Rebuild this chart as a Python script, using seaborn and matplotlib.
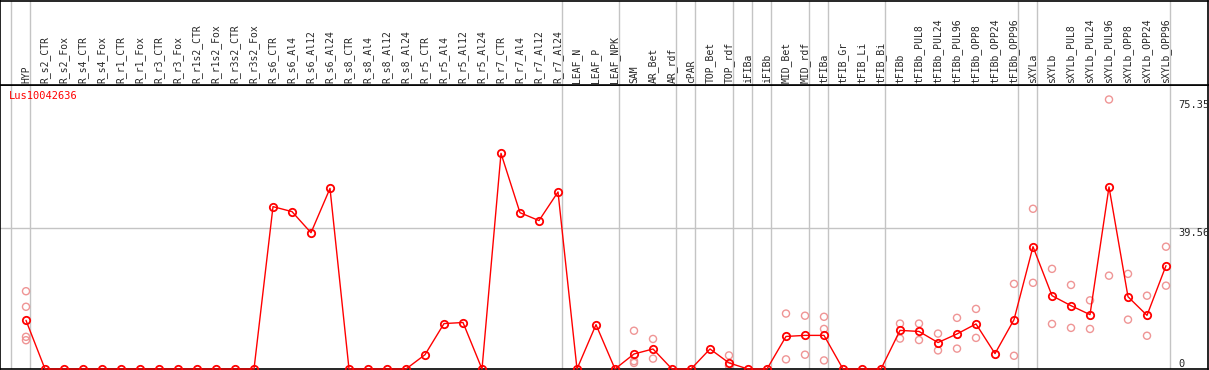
import matplotlib
matplotlib.use('Agg')
import matplotlib.pyplot as plt
import matplotlib.transforms as mtrans
import seaborn as sns
import pandas as pd

sns.set_style('white')
plt.rcParams['font.family'] = ['DejaVu Sans Mono']

gene = 'Lus10042636'

samples = ['HYP', 'R_s2_CTR', 'R_s2_Fox', 'R_s4_CTR', 'R_s4_Fox', 'R_r1_CTR', 'R_r1_Fox',
           'R_r3_CTR', 'R_r3_Fox', 'R_r1s2_CTR', 'R_r1s2_Fox', 'R_r3s2_CTR', 'R_r3s2_Fox',
           'R_s6_CTR', 'R_s6_Al4', 'R_s6_Al12', 'R_s6_Al24', 'R_s8_CTR', 'R_s8_Al4',
           'R_s8_Al12', 'R_s8_Al24', 'R_r5_CTR', 'R_r5_Al4', 'R_r5_Al12', 'R_r5_Al24',
           'R_r7_CTR', 'R_r7_Al4', 'R_r7_Al12', 'R_r7_Al24', 'LEAF_N', 'LEAF_P', 'LEAF_NPK',
           'SAM', 'AR_Bet', 'AR_rdf', 'cPAR', 'TOP_Bet', 'TOP_rdf', 'iFIBa', 'iFIBb',
           'MID_Bet', 'MID_rdf', 'tFIBa', 'tFIB_Gr', 'tFIB_Li', 'tFIB_Bi', 'tFIBb',
           'tFIBb_PUL8', 'tFIBb_PUL24', 'tFIBb_PUL96', 'tFIBb_OPP8', 'tFIBb_OPP24',
           'tFIBb_OPP96', 'sXYLa', 'sXYLb', 'sXYLb_PUL8', 'sXYLb_PUL24', 'sXYLb_PUL96',
           'sXYLb_OPP8', 'sXYLb_OPP24', 'sXYLb_OPP96']

# mean expression per sample
means = [13.6, 0, 0, 0, 0, 0, 0, 0, 0, 0, 0, 0, 0,
         45.4, 44.0, 38.1, 50.5, 0, 0, 0, 0, 4.0, 12.7, 13.0, 0,
         60.3, 43.7, 41.5, 49.5, 0, 12.4, 0,
         4.2, 5.6, 0, 0, 5.6, 1.7, 0, 0,
         9.1, 9.4, 9.4, 0, 0, 0, 10.8,
         10.5, 7.4, 9.8, 12.6, 4.3, 13.8,
         34.2, 20.5, 17.7, 15.2, 50.9, 20.2, 15.0, 28.9]

# individual replicates
rep_samples = ['HYP', 'HYP', 'HYP', 'HYP',
               'SAM', 'SAM', 'SAM', 'AR_Bet', 'AR_Bet', 'TOP_rdf', 'TOP_rdf',
               'MID_Bet', 'MID_Bet', 'MID_rdf', 'MID_rdf', 'tFIBa', 'tFIBa', 'tFIBa',
               'tFIBb', 'tFIBb', 'tFIBb_PUL8', 'tFIBb_PUL8', 'tFIBb_PUL24', 'tFIBb_PUL24',
               'tFIBb_PUL96', 'tFIBb_PUL96', 'tFIBb_OPP8', 'tFIBb_OPP8',
               'tFIBb_OPP96', 'tFIBb_OPP96', 'sXYLa', 'sXYLa', 'sXYLb', 'sXYLb',
               'sXYLb_PUL8', 'sXYLb_PUL8', 'sXYLb_PUL24', 'sXYLb_PUL24',
               'sXYLb_PUL96', 'sXYLb_PUL96', 'sXYLb_OPP8', 'sXYLb_OPP8',
               'sXYLb_OPP24', 'sXYLb_OPP24', 'sXYLb_OPP96', 'sXYLb_OPP96']
rep_values = [21.75, 17.4, 9.0, 8.05,
              10.7, 2.2, 1.7, 8.4, 2.9, 3.8, 0.9,
              15.5, 2.7, 14.9, 4.0, 14.6, 11.2, 2.4,
              12.7, 8.5, 12.7, 8.1, 9.9, 5.2,
              14.3, 5.7, 16.8, 8.7,
              23.8, 3.7, 44.8, 24.1, 28.0, 12.6,
              23.5, 11.5, 19.2, 11.2,
              75.35, 26.1, 26.6, 13.8,
              20.5, 9.3, 34.2, 23.3]

# group separators (drawn after these samples)
group_ends = ['HYP', 'R_r7_Al24', 'LEAF_NPK', 'AR_rdf', 'cPAR', 'TOP_rdf', 'iFIBa',
              'iFIBb', 'MID_rdf', 'tFIBa', 'tFIB_Bi', 'tFIBb_OPP96', 'sXYLa', 'sXYLb_OPP96']

y_ticks = [75.35, 39.56, 0]

W, H = 1209, 370
fig = plt.figure(figsize=(W / 100, H / 100), dpi=100)
ax = fig.add_axes([0, 1 / H, 1207.5 / W, 284 / H])
axh = fig.add_axes([0, 285 / H, 1207.5 / W, 84.5 / H], sharex=ax)

pos = {s: i for i, s in enumerate(samples)}
df = pd.DataFrame({'x': range(len(samples)), 'y': means})
reps = pd.DataFrame({'x': [pos[s] for s in rep_samples], 'y': rep_values})

grid_col = '#c4c4c4'
for a in (ax, axh):
    a.axvline(-1 + 0.2, color=grid_col, lw=1, zorder=0)
    for s in group_ends:
        a.axvline(pos[s] + 0.2, color=grid_col, lw=1, zorder=0)
    for sp in a.spines.values():
        sp.set_color('black')
        sp.set_linewidth(1.2)
ax.axhline(y_ticks[1], color=grid_col, lw=1, zorder=0)

sns.scatterplot(data=reps, x='x', y='y', ax=ax, marker='o', s=26,
                facecolor='none', edgecolor='#ef9595', linewidth=1.0, zorder=2)
sns.lineplot(data=df, x='x', y='y', ax=ax, color='red', lw=1.0, marker='o',
             markersize=5.3, markerfacecolor='none', markeredgecolor='red',
             markeredgewidth=1.3, zorder=3, clip_on=False)

ax.set_xlim(-26 / 19, (1207.5 - 26) / 19)
ax.set_ylim(0, 284 * 0.2796)
ax.set_xticks([])
ax.set_yticks([])
ax.set_xlabel('')
ax.set_ylabel('')
axh.set_ylim(0, 1)
axh.set_yticks([])
axh.tick_params(labelbottom=False, bottom=False)

for i, s in enumerate(samples):
    axh.text(i, 2 / 85, s, rotation=90, ha='center', va='bottom', fontsize=7)

fig.text(9 / W, 1 - 91 / H, gene, color='red', fontsize=7.5, ha='left', va='top')

tr = mtrans.blended_transform_factory(ax.transAxes, ax.transData)
for v in y_ticks:
    lab = '0' if v == 0 else '%.2f' % v
    ax.text(1178 / 1207.5, v, lab, transform=tr, ha='left',
            va='bottom' if v == 0 else 'top', fontsize=7.5)

fig.savefig('out.png', dpi=100)
